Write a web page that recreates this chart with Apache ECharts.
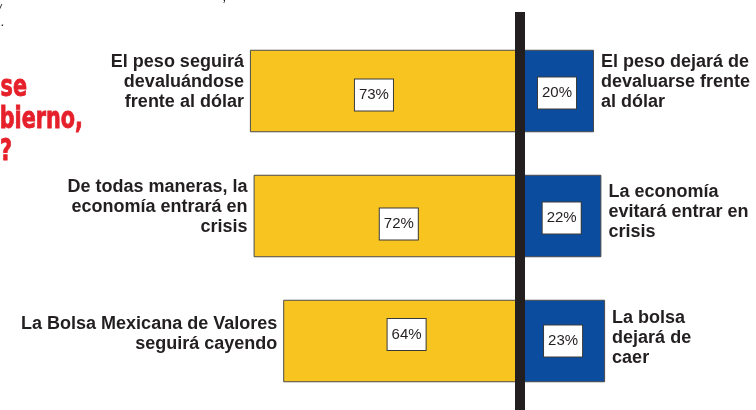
<!DOCTYPE html>
<html>
<head>
<meta charset="utf-8">
<script src="https://cdn.jsdelivr.net/npm/echarts@6/dist/echarts.min.js"></script>
<style>
html,body{margin:0;padding:0;background:#fff;}
#chart{width:756px;height:410px;}
</style>
</head>
<body>
<div id="chart"></div>
<script>
// ---- data ----
const categories = ['Peso', 'Economía', 'Bolsa'];
const leftLabels = [
  'El peso seguirá\ndevaluándose\nfrente al dólar',
  'De todas maneras, la\neconomía entrará en\ncrisis',
  'La Bolsa Mexicana de Valores\nseguirá cayendo'
];
const rightLabels = [
  'El peso dejará de\ndevaluarse frente\nal dólar',
  'La economía\nevitará entrar en\ncrisis',
  'La bolsa\ndejará de\ncaer'
];
const pessimistValues = [73, 72, 64];
const optimistValues = [20, 22, 23];
const headingLines = ['¿Qué pasará si se', 'del gobierno,', '?'];

// ---- chart ----
const chart = echarts.init(document.getElementById('chart'), null, {renderer: 'canvas'});
const FONT = '"Liberation Sans", Arial, Helvetica, sans-serif';
const RED_FONT = 'bold 30px "Liberation Sans Narrow", "DejaVu Sans Condensed", "Liberation Sans", sans-serif';
const YELLOW = '#F8C520';
const BLUE = '#0B4C9F';
const INK = '#231F20';
const RED = '#E5202A';

const leftTextOffsets = [[0, -9], [0, -9], [0, -7]];
const rightTextOffsets = [[0, -9], [0, -4], [0, -3]];
const leftPctOffsets = [[-11, 4], [12, 8], [5, -6.5]];
const rightPctOffsets = [[0, 2], [1, 2], [0.5, 0]];

const pctLabel = {
  show: true,
  position: 'inside',
  fontFamily: FONT,
  fontSize: 15,
  lineHeight: 15,
  color: INK,
  backgroundColor: '#ffffff',
  borderColor: '#3a3a3a',
  borderWidth: 1,
  padding: [8, 4, 8, 4]
};

const option = {
  animation: false,
  backgroundColor: '#ffffff',
  grid: [
    {left: 150, right: 51, top: 28.5, height: 375, containLabel: false},
    {left: 150, right: 51, top: 12, bottom: 0, containLabel: false}
  ],
  xAxis: [
    {type: 'value', gridIndex: 0, min: -100, max: 50, show: false},
    {type: 'value', gridIndex: 1, min: -100, max: 50, show: false}
  ],
  yAxis: [
    {type: 'category', gridIndex: 0, data: categories, inverse: true, show: false},
    {
      type: 'value', gridIndex: 1, min: 0, max: 1, z: 10,
      axisLine: {show: true, onZero: true, symbol: 'none', lineStyle: {color: INK, width: 10, cap: 'butt'}},
      axisTick: {show: false}, axisLabel: {show: false}, splitLine: {show: false}
    }
  ],
  series: [
    {
      type: 'bar', xAxisIndex: 0, yAxisIndex: 0,
      barWidth: 82.5, barGap: '-100%',
      itemStyle: {color: YELLOW, borderColor: '#4a4a4a', borderWidth: 1},
      data: pessimistValues.map((v, i) => ({
        value: -v,
        label: {
          show: true, position: 'left', distance: 6, offset: leftTextOffsets[i],
          formatter: () => leftLabels[i],
          fontFamily: FONT, fontWeight: 'bold', fontSize: 18, lineHeight: 20,
          color: INK, align: 'right'
        }
      }))
    },
    {
      type: 'bar', xAxisIndex: 0, yAxisIndex: 0,
      barWidth: 82.5, barGap: '-100%',
      itemStyle: {color: BLUE, borderColor: '#4a4a4a', borderWidth: 1},
      data: optimistValues.map((v, i) => ({
        value: v,
        label: {
          show: true, position: 'right', distance: 7, offset: rightTextOffsets[i],
          formatter: () => rightLabels[i],
          fontFamily: FONT, fontWeight: 'bold', fontSize: 18, lineHeight: 20,
          color: INK, align: 'left'
        }
      }))
    },
    {
      type: 'bar', xAxisIndex: 0, yAxisIndex: 0,
      barWidth: 82.5, barGap: '-100%', silent: true,
      itemStyle: {color: 'rgba(0,0,0,0)', borderWidth: 0},
      data: pessimistValues.map((v, i) => ({
        value: -v,
        label: Object.assign({}, pctLabel, {offset: leftPctOffsets[i], formatter: () => v + '%'})
      }))
    },
    {
      type: 'bar', xAxisIndex: 0, yAxisIndex: 0,
      barWidth: 82.5, barGap: '-100%', silent: true,
      itemStyle: {color: 'rgba(0,0,0,0)', borderWidth: 0},
      data: optimistValues.map((v, i) => ({
        value: v,
        label: Object.assign({}, pctLabel, {offset: rightPctOffsets[i], formatter: () => v + '%'})
      }))
    }
  ],
  graphic: [
    {type: 'text', x: 27, y: 73, scaleX: 0.77, style: {text: headingLines[0], fill: RED, font: RED_FONT, textAlign: 'right', textVerticalAlign: 'top', stroke: RED, lineWidth: 0.8}},
    {type: 'text', x: 83, y: 105, scaleX: 0.77, style: {text: headingLines[1], fill: RED, font: RED_FONT, textAlign: 'right', textVerticalAlign: 'top', stroke: RED, lineWidth: 0.8}},
    {type: 'text', x: 12, y: 137, scaleX: 0.77, style: {text: headingLines[2], fill: RED, font: RED_FONT, textAlign: 'right', textVerticalAlign: 'top', stroke: RED, lineWidth: 0.8}},
    {type: 'text', left: -2, top: 4, style: {text: '/', fill: INK, font: 'italic 12px "Liberation Sans", sans-serif'}},
    {type: 'text', left: 1, top: 15, style: {text: '.', fill: INK, font: 'italic 14px "Liberation Sans", sans-serif'}},
    {type: 'text', left: 223, top: -10, style: {text: ',', fill: INK, font: 'italic 14px "Liberation Sans", sans-serif'}}
  ]
};
chart.setOption(option);
</script>
</body>
</html>
